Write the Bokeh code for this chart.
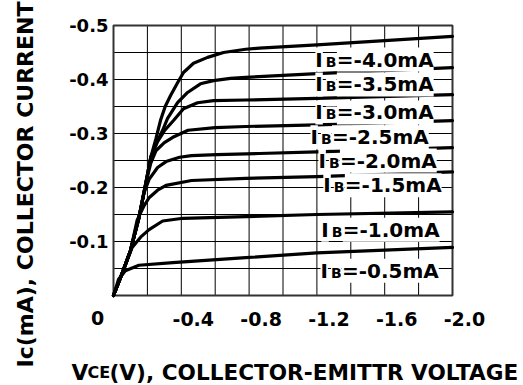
from bokeh.plotting import figure
from bokeh.models import Range1d, ColumnDataSource, LabelSet, Label
from bokeh.core.properties import value
from bokeh.embed import file_html
from bokeh.resources import INLINE

# ---- data ----
vce_ticks = [-0.4, -0.8, -1.2, -1.6, -2.0]
vce_tick_labels = ["-0.4", "-0.8", "-1.2", "-1.6", "-2.0"]
ic_ticks = [-0.1, -0.2, -0.3, -0.4, -0.5]
ic_tick_labels = ["-0.1", "-0.2", "-0.3", "-0.4", "-0.5"]
vce_grid = [-0.2, -0.4, -0.6, -0.8, -1.0, -1.2, -1.4, -1.6, -1.8]
ic_grid = [-0.05, -0.1, -0.15, -0.2, -0.25, -0.3, -0.35, -0.4, -0.45]
vce_lim = [0, -2.0]
ic_lim = [0, -0.5]

ib_values = ["-4.0", "-3.5", "-3.0", "-2.5", "-2.0", "-1.5", "-1.0", "-0.5"]

v_40 = [0, -0.05, -0.10, -0.15, -0.19, -0.22, -0.25, -0.277, -0.305, -0.336, -0.378, -0.413, -0.472, -0.555, -0.649, -0.78, -0.86, -1.2, -2.0]
i_40 = [0, -0.04, -0.083, -0.144, -0.207, -0.256, -0.29, -0.324, -0.35, -0.37, -0.394, -0.413, -0.430, -0.441, -0.450, -0.456, -0.458, -0.464, -0.480]
v_35 = [0, -0.05, -0.10, -0.15, -0.19, -0.22, -0.25, -0.29, -0.319, -0.378, -0.437, -0.513, -0.59, -0.69, -0.78, -1.2, -2.0]
i_35 = [0, -0.04, -0.083, -0.144, -0.207, -0.256, -0.28, -0.306, -0.328, -0.357, -0.376, -0.392, -0.398, -0.402, -0.404, -0.411, -0.422]
v_30 = [0, -0.05, -0.10, -0.15, -0.19, -0.22, -0.26, -0.30, -0.354, -0.413, -0.496, -0.59, -0.78, -1.2, -2.0]
i_30 = [0, -0.04, -0.083, -0.144, -0.207, -0.256, -0.285, -0.305, -0.324, -0.346, -0.357, -0.361, -0.362, -0.365, -0.372]
v_25 = [0, -0.05, -0.10, -0.15, -0.19, -0.22, -0.25, -0.30, -0.35, -0.44, -0.60, -0.78, -1.2, -2.0]
i_25 = [0, -0.04, -0.083, -0.144, -0.207, -0.245, -0.268, -0.283, -0.293, -0.306, -0.311, -0.313, -0.316, -0.324]
v_20 = [0, -0.05, -0.10, -0.15, -0.18, -0.21, -0.26, -0.31, -0.39, -0.46, -0.61, -0.86, -1.2, -2.0]
i_20 = [0, -0.04, -0.083, -0.144, -0.19, -0.215, -0.237, -0.248, -0.256, -0.259, -0.261, -0.263, -0.266, -0.274]
v_15 = [0, -0.05, -0.10, -0.14, -0.18, -0.21, -0.26, -0.31, -0.46, -0.78, -1.2, -2.0]
i_15 = [0, -0.04, -0.083, -0.14, -0.166, -0.181, -0.195, -0.204, -0.213, -0.217, -0.220, -0.229]
v_10 = [0, -0.05, -0.11, -0.16, -0.21, -0.29, -0.41, -0.78, -1.2, -2.0]
i_10 = [0, -0.04, -0.089, -0.108, -0.122, -0.138, -0.143, -0.146, -0.150, -0.155]
v_05 = [0, -0.03, -0.07, -0.15, -0.35, -0.78, -1.2, -2.0]
i_05 = [0, -0.03, -0.046, -0.056, -0.061, -0.070, -0.079, -0.089]

curves = [(v_40, i_40), (v_35, i_35), (v_30, i_30), (v_25, i_25),
          (v_20, i_20), (v_15, i_15), (v_10, i_10), (v_05, i_05)]

# curve-label anchor positions (layout, baseline-left of the "I")
label_v = [-1.191, -1.191, -1.191, -1.162, -1.209, -1.238, -1.226, -1.221]
label_i = [-0.424, -0.378, -0.326, -0.280, -0.237, -0.191, -0.109, -0.033]

FONT = "DejaVu Sans"
W, H = 523, 385
# plot box in page pixels
BOX_L, BOX_R, BOX_T, BOX_B = 113, 452, 25, 295
kx = (BOX_R - BOX_L) / (vce_lim[1] - vce_lim[0])   # px (rightwards) per volt
ky = (BOX_T - BOX_B) / (ic_lim[1] - ic_lim[0])     # px (downwards) per mA
x_range = Range1d(vce_lim[0] - BOX_L / kx, vce_lim[0] + (W - BOX_L) / kx)
y_range = Range1d(ic_lim[0] + (H - BOX_B) / ky, ic_lim[0] - BOX_B / ky)

p = figure(width=W, height=H, output_backend="svg", toolbar_location=None,
           x_range=x_range, y_range=y_range,
           min_border=0, min_border_left=0, min_border_right=0,
           min_border_top=0, min_border_bottom=0)
p.axis.visible = False
p.grid.visible = False
p.outline_line_color = None
p.background_fill_color = "white"
p.border_fill_color = "white"

# grid lines
p.segment(x0=vce_grid, x1=vce_grid, y0=[ic_lim[0]] * len(vce_grid), y1=[ic_lim[1]] * len(vce_grid),
          line_color="black", line_width=1)
p.segment(x0=[vce_lim[0]] * len(ic_grid), x1=[vce_lim[1]] * len(ic_grid), y0=ic_grid, y1=ic_grid,
          line_color="black", line_width=1)
# plot box
p.quad(left=vce_lim[0], right=vce_lim[1], bottom=ic_lim[0], top=ic_lim[1],
       fill_color=None, line_color="#333333", line_width=2)

for v, i in curves:
    p.line(v, i, line_color="black", line_width=3.2, line_join="round", line_cap="round")

lsrc = ColumnDataSource(dict(
    v=label_v, i=label_i,
    t1=["I"] * len(ib_values),
    t2=["B"] * len(ib_values),
    t3=["=" + s + "mA" for s in ib_values],
))
for field, size, dx in (("t1", "20px", 0), ("t2", "14px", 10.5), ("t3", "20px", 21.5)):
    p.add_layout(LabelSet(x="v", y="i", text=field, source=lsrc, x_offset=dx,
                          text_font=value(FONT), text_font_style="bold", text_font_size=size,
                          text_color="black", text_align="left", text_baseline="alphabetic",
                          background_fill_color="white"))

# x tick labels
tsrc = ColumnDataSource(dict(x=vce_ticks, y=[ic_lim[0]] * len(vce_ticks), t=vce_tick_labels))
p.add_layout(LabelSet(x="x", y="y", text="t", source=tsrc, x_offset=12, y_offset=-23,
                      text_font=value(FONT), text_font_style="bold", text_font_size="19px",
                      text_color="black", text_align="center", text_baseline="middle"))
p.add_layout(Label(x=vce_lim[0], y=ic_lim[0], text="0", x_offset=-16, y_offset=-22,
                   text_font=FONT, text_font_style="bold", text_font_size="19px",
                   text_color="black", text_align="center", text_baseline="middle"))
# y tick labels
ysrc = ColumnDataSource(dict(x=[vce_lim[0]] * len(ic_ticks), y=ic_ticks, t=ic_tick_labels))
p.add_layout(LabelSet(x="x", y="y", text="t", source=ysrc, x_offset=-5,
                      text_font=value(FONT), text_font_style="bold", text_font_size="18px",
                      text_color="black", text_align="right", text_baseline="middle"))

# axis titles (screen units: origin bottom-left of canvas)
p.add_layout(Label(x=25, y=H - 184, x_units="screen", y_units="screen",
                   text="Ic(mA), COLLECTOR CURRENT", angle=90, angle_units="deg",
                   text_font=FONT, text_font_style="bold", text_font_size="22px",
                   text_color="black", text_align="center", text_baseline="middle"))
for txt, px, size in (("V", 71, "21.6px"), ("CE", 87, "16px"), ("(V), COLLECTOR-EMITTR VOLTAGE", 109, "21.6px")):
    p.add_layout(Label(x=px, y=H - 372, x_units="screen", y_units="screen",
                       text=txt, text_font=FONT, text_font_style="bold", text_font_size=size,
                       text_color="black", text_align="left", text_baseline="alphabetic"))

open("out.html", "w").write(file_html(p, INLINE))
